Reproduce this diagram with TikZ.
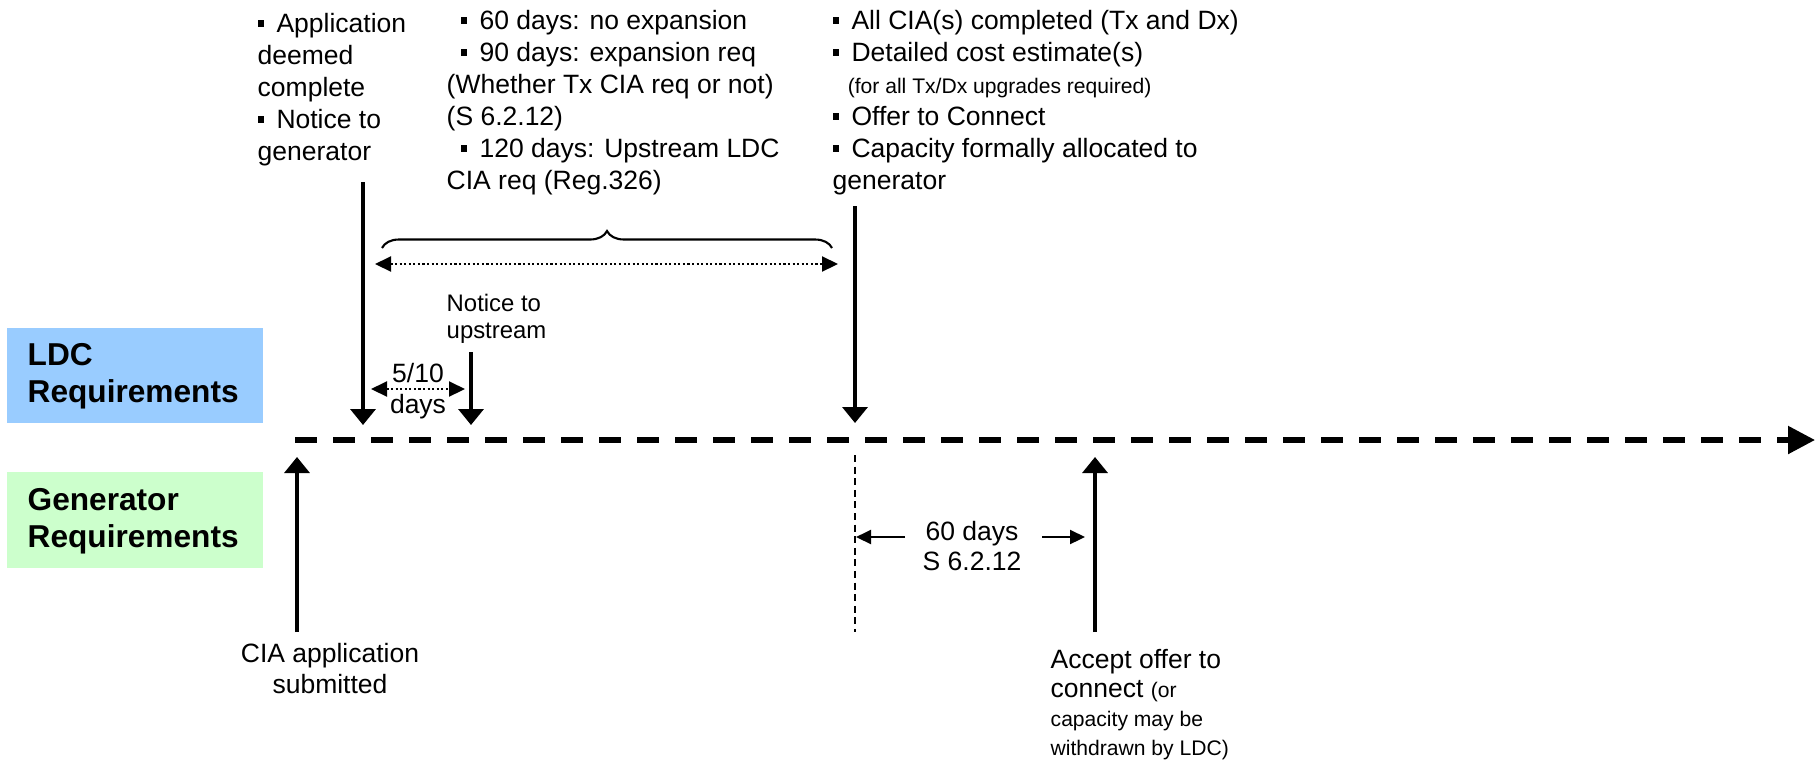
\documentclass[tikz,border=0pt]{standalone}
\usepackage{fontspec}
\setmainfont{Liberation Sans}
\usetikzlibrary{arrows.meta,decorations.pathreplacing}

\definecolor{ldcblue}{HTML}{99CCFF}
\definecolor{gengreen}{HTML}{CCFFCC}
\newcommand{\sqbul}{\raisebox{1.7pt}{\rule{1.85pt}{1.85pt}}\hspace{3.5pt}}
\newcommand{\smalltxt}{\fontsize{6}{7}\selectfont}

\begin{document}
\begin{tikzpicture}[
    txt/.style = {inner sep = 0pt, align = left, font = \fontsize{7.54}{8.8}\selectfont},
    toptxt/.style = {txt, anchor = north west, font = \fontsize{7.54}{9.1}\selectfont},
    head/.style = {inner sep = 0pt, align = left, font = \fontsize{9}{10.5}\selectfont\bfseries},
    event/.style = {line width = 1pt, -{Triangle[length = 0.16cm, width = 0.25cm]}},
    span/.style = {line width = 0.6pt, dash pattern = on 0.6pt off 0.7pt,
                   {Triangle[length = 0.16cm, width = 0.15cm]}-{Triangle[length = 0.16cm, width = 0.15cm]}},
    gap/.style = {line width = 0.6pt, -{Triangle[length = 0.15cm, width = 0.14cm]}}
  ]
  \useasboundingbox (0,0) rectangle (18.17,-7.59);

  % Row labels
  \fill [ldcblue] (0.07,-3.28) rectangle (2.63,-4.23);
  \fill [gengreen] (0.07,-4.72) rectangle (2.63,-5.68);
  \node [head, anchor = west] (ldc) at (0.27,-3.76) {LDC\\Requirements};
  \node [head, anchor = west] (gen) at (0.27,-5.21) {Generator\\Requirements};

  % Time line
  \coordinate (T0) at (2.95,-4.40);
  \coordinate (T1) at (18.15,-4.40);
  \draw [line width = 1.5pt, dash pattern = on 0.22cm off 0.16cm,
         -{Triangle[length = 0.27cm, width = 0.27cm]}] (T0) -- (T1);

  % LDC side
  \node [toptxt] (deemed) at (2.57,-0.13)
    {\sqbul Application\\ deemed\\ complete\\ \sqbul Notice to\\ generator};
  \node [toptxt] (limits) at (4.46,-0.10)
    {\hspace*{4pt}\sqbul 60 days: no expansion\\ \hspace*{4pt}\sqbul 90 days: expansion req\\
     (Whether Tx CIA req or not)\\ (S 6.2.12)\\ \hspace*{4pt}\sqbul 120 days: Upstream LDC\\ CIA req (Reg.326)};
  \node [toptxt] (alloc) at (8.32,-0.10)
    {\sqbul All CIA(s) completed (Tx and Dx)\\ \sqbul Detailed cost estimate(s)\\
     \hspace*{4.3pt}{\smalltxt (for all Tx/Dx upgrades required)}\\ \sqbul Offer to Connect\\
     \sqbul Capacity formally allocated to\\ generator};
  \node [txt, anchor = north west, font = \fontsize{6.8}{7.7}\selectfont] (notice) at (4.46,-2.93)
    {Notice to\\upstream};
  \node [txt, align = center] (days510) at (4.18,-3.91) {5/10\\days};

  \coordinate (A0) at (3.63,-1.82);
  \coordinate (A1) at (3.63,-4.25);
  \coordinate (N0) at (4.71,-3.52);
  \coordinate (N1) at (4.71,-4.25);
  \coordinate (C0) at (8.55,-2.06);
  \coordinate (C1) at (8.55,-4.23);
  \draw [event] (A0) -- (A1);
  \draw [event] (N0) -- (N1);
  \draw [event] (C0) -- (C1);

  \coordinate (D0) at (3.71,-3.89);
  \coordinate (D1) at (4.65,-3.89);
  \draw [span] (D0) -- (D1);
  \coordinate (S0) at (3.75,-2.64);
  \coordinate (S1) at (8.38,-2.64);
  \draw [span] (S0) -- (S1);
  \coordinate (B0) at (3.82,-2.48);
  \coordinate (B1) at (8.32,-2.48);
  \draw [line width = 0.6pt, decorate, decoration = {brace, amplitude = 0.17cm}] (B0) -- (B1);

  % Generator side
  \node [txt, align = center] (submit) at (3.30,-6.685) {CIA application\\submitted};
  \node [txt, anchor = north west, font = \fontsize{7.54}{8.25}\selectfont] (accept) at (10.50,-6.49)
    {Accept offer to\\ connect {\smalltxt (or}\\ {\smalltxt capacity may be}\\ {\smalltxt withdrawn by LDC)}};
  \node [txt, align = center] (sixty) at (9.72,-5.46) {60 days\\S 6.2.12};

  \coordinate (G0) at (2.97,-6.32);
  \coordinate (G1) at (2.97,-4.57);
  \coordinate (K0) at (10.95,-6.32);
  \coordinate (K1) at (10.95,-4.57);
  \draw [event] (G0) -- (G1);
  \draw [event] (K0) -- (K1);

  \coordinate (V0) at (8.55,-4.55);
  \coordinate (V1) at (8.55,-6.32);
  \draw [line width = 0.6pt, dash pattern = on 2pt off 1.3pt] (V0) -- (V1);
  \coordinate (L0) at (9.05,-5.37);
  \coordinate (L1) at (8.56,-5.37);
  \coordinate (R0) at (10.42,-5.37);
  \coordinate (R1) at (10.85,-5.37);
  \draw [gap] (L0) -- (L1);
  \draw [gap] (R0) -- (R1);
\end{tikzpicture}
\end{document}
